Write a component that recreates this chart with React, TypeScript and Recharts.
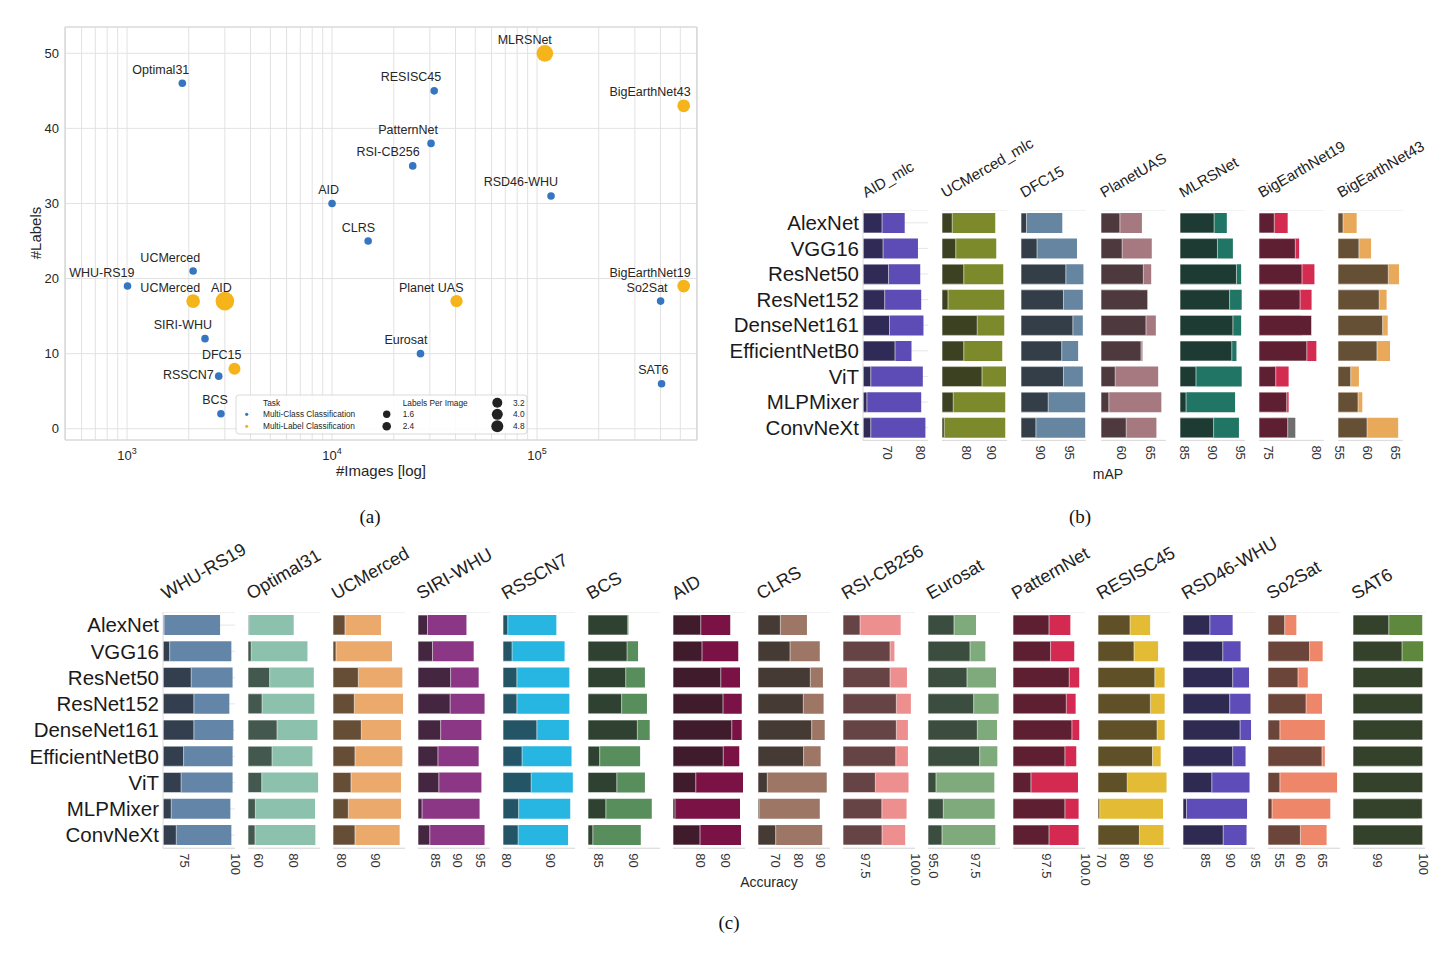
import React from "react";
import {
  BarChart,
  Bar,
  Cell,
  XAxis,
  YAxis,
  CartesianGrid,
  ScatterChart,
  Scatter,
  ZAxis,
  ReferenceArea,
} from "recharts";

const FONT = '"Liberation Sans", Arial, Helvetica, sans-serif';

// ---------- (a) datasets: #images vs #labels ----------
const mcNames = ["Optimal31", "RESISC45", "PatternNet", "RSI-CB256", "AID", "CLRS", "RSD46-WHU", "UCMerced", "WHU-RS19", "SIRI-WHU", "RSSCN7", "BCS", "Eurosat", "So2Sat", "SAT6"];
const mcImages = [1860, 31500, 30400, 24747, 10000, 15000, 117000, 2100, 1005, 2400, 2800, 2870, 27000, 400673, 405000];
const mcLabels = [46, 45, 38, 35, 30, 25, 31, 21, 19, 12, 7, 2, 10, 17, 6];

const mlNames = ["MLRSNet", "BigEarthNet43", "BigEarthNet19", "UCMerced", "AID", "Planet UAS", "DFC15"];
const mlImages = [109161, 519284, 519284, 2100, 3000, 40479, 3342];
const mlLabels = [50, 43, 19, 17, 17, 17, 8];
const mlLabelsPerImage = [4.4, 3.0, 3.0, 3.3, 5.2, 2.9, 2.8];

const xTicksLog = [500, 600, 700, 800, 900, 1000, 2000, 3000, 4000, 5000, 6000, 7000, 8000, 9000, 10000, 20000, 30000, 40000, 50000, 60000, 70000, 80000, 90000, 100000, 200000, 300000, 400000, 500000, 600000];
const yTicksLabels = [0, 10, 20, 30, 40, 50];

// label placement tweaks (px), default is up-left of the dot
const labelNudge: Record<string, [number, number]> = { RSSCN7: [-5, -1] };

// ---------- (b)/(c) models ----------
const models = ["AlexNet", "VGG16", "ResNet50", "ResNet152", "DenseNet161", "EfficientNetB0", "ViT", "MLPMixer", "ConvNeXt"];

// (b) multi-label, mAP. dark = scratch, light = pretrained
const aidMlcScratch = [68.2, 68.5, 70.2, 69.0, 70.5, 72.2, 64.7, 63.5, 64.7];
const aidMlcPre = [75.2, 79.3, 80.0, 80.3, 81.0, 77.3, 80.8, 80.3, 81.6];
const ucmMlcScratch = [74.5, 75.9, 79.1, 72.8, 84.5, 79.1, 86.4, 74.9, 71.3];
const ucmMlcPre = [91.7, 92.1, 94.9, 95.3, 95.3, 94.5, 96.0, 95.7, 95.7];
const dfc15Scratch = [87.7, 89.5, 94.4, 94.0, 95.6, 93.7, 94.0, 91.4, 89.3];
const dfc15Pre = [93.8, 96.3, 97.4, 97.3, 97.3, 96.5, 97.3, 97.7, 97.7];
const planetScratch = [59.8, 60.2, 63.85, 64.6, 64.3, 63.45, 59.0, 57.9, 60.9];
const planetPre = [63.6, 65.3, 65.2, 63.0, 66.0, 63.7, 66.4, 66.95, 66.1];
const mlrsScratch = [90.3, 90.9, 94.35, 93.1, 93.7, 93.5, 87.0, 85.2, 90.2];
const mlrsPre = [92.6, 93.7, 95.2, 95.3, 95.2, 94.35, 95.3, 94.1, 94.8];
const ben19Scratch = [75.6, 77.8, 78.5, 78.3, 79.5, 79.0, 75.75, 76.9, 77.0];
const ben19Pre = [77.0, 78.2, 79.8, 79.5, 78.5, 80.0, 77.1, 77.1, 77.8];
const ben43Scratch = [55.7, 58.5, 63.7, 62.1, 62.7, 61.7, 57.05, 58.35, 59.95];
const ben43Pre = [58.1, 60.65, 65.6, 63.4, 63.6, 64.0, 58.5, 59.1, 65.45];

// (c) multi-class, accuracy
const whuScratch = [64.8, 67.6, 78.3, 79.6, 79.6, 74.5, 73.3, 68.4, 70.9];
const whuPre = [92.6, 98.2, 98.8, 97.2, 99.2, 98.8, 98.8, 97.7, 98.2];
const opt31Scratch = [54.0, 55.5, 66.2, 61.8, 70.5, 67.6, 61.6, 57.9, 57.7];
const opt31Pre = [80.2, 88.2, 91.9, 92.2, 94.0, 91.1, 94.4, 92.6, 92.8];
const ucmScratch = [81.0, 78.3, 85.0, 83.8, 85.9, 84.0, 82.8, 82.0, 84.0];
const ucmPre = [91.8, 95.1, 98.2, 98.4, 97.8, 98.2, 97.8, 97.8, 97.4];
const siriScratch = [83.3, 84.4, 88.4, 88.3, 86.2, 85.6, 85.8, 82.1, 83.8];
const siriPre = [91.9, 93.5, 94.6, 95.9, 95.2, 94.6, 95.2, 94.8, 95.9];
const rsscnScratch = [80.2, 81.2, 82.3, 82.3, 86.9, 83.5, 85.6, 82.7, 82.6];
const rsscnPre = [91.4, 93.3, 94.4, 94.4, 94.3, 94.9, 95.2, 94.6, 94.1];
const bcsScratch = [89.2, 89.1, 88.9, 88.3, 90.6, 85.1, 87.6, 86.0, 84.1];
const bcsPre = [89.3, 90.7, 91.7, 92.0, 92.4, 91.0, 91.7, 92.7, 91.1];
const aidScratch = [80.3, 80.8, 88.3, 89.2, 92.7, 89.3, 78.3, 70.0, 80.0];
const aidPre = [92.1, 95.3, 96.0, 96.7, 96.7, 95.7, 97.2, 96.0, 96.4];
const clrsScratch = [72.1, 76.4, 85.4, 82.3, 86.0, 82.4, 66.3, 62.6, 70.0];
const clrsPre = [83.9, 89.6, 91.0, 91.3, 91.8, 90.0, 92.7, 89.6, 90.7];
const rsicbScratch = [97.2, 98.73, 98.73, 99.05, 99.05, 99.02, 97.98, 98.31, 98.32];
const rsicbPre = [99.27, 98.95, 99.59, 99.79, 99.64, 99.64, 99.67, 99.57, 99.5];
const eurosatScratch = [96.24, 97.2, 97.02, 97.42, 97.64, 97.78, 95.16, 95.6, 95.52];
const eurosatPre = [97.56, 98.12, 98.76, 98.92, 98.82, 98.84, 98.66, 98.68, 98.72];
const patternScratch = [97.69, 97.79, 98.99, 98.8, 99.16, 98.71, 96.53, 98.71, 97.69];
const patternPre = [99.06, 99.31, 99.63, 99.4, 99.63, 99.44, 99.55, 99.59, 99.59];
const resiscScratch = [82.3, 84.0, 92.9, 91.0, 93.9, 91.9, 81.1, 69.3, 86.3];
const resiscPre = [90.9, 94.3, 97.1, 97.1, 97.1, 95.4, 97.9, 96.4, 96.6];
const rsd46Scratch = [85.9, 88.5, 90.5, 89.9, 92.0, 90.5, 86.3, 81.2, 88.6];
const rsd46Pre = [90.5, 92.1, 93.8, 94.1, 94.2, 93.1, 93.9, 93.4, 93.3];
const so2satScratch = [56.3, 62.0, 59.35, 61.2, 55.2, 64.85, 55.2, 53.4, 59.9];
const so2satPre = [58.97, 65.0, 61.6, 64.85, 65.5, 65.5, 68.3, 66.75, 65.9];
const sat6Scratch = [99.24, 99.53, 99.98, 99.98, 99.98, 99.98, 99.98, 99.97, 99.98];
const sat6Pre = [99.97, 99.99, 99.93, 99.95, 99.94, 99.92, 99.96, 99.9, 99.95];

type Panel = {
  title: string;
  dark: number[];
  light: number[];
  domain: [number, number];
  ticks: number[];
  colors: [string, string];
  decimals?: number;
  lightCells?: (string | undefined)[];
};

const panelsB: Panel[] = [
  { title: "AID_mlc", dark: aidMlcScratch, light: aidMlcPre, domain: [62.3, 82.4], ticks: [70, 80], colors: ["#302b56", "#5d4cb6"] },
  { title: "UCMerced_mlc", dark: ucmMlcScratch, light: ucmMlcPre, domain: [70.4, 96.4], ticks: [80, 90], colors: ["#3c4122", "#7c8a2b"] },
  { title: "DFC15", dark: dfc15Scratch, light: dfc15Pre, domain: [86.76, 97.84], ticks: [90, 95], colors: ["#343e48", "#6685a0"] },
  { title: "PlanetUAS", dark: planetScratch, light: planetPre, domain: [56.55, 67.75], ticks: [60, 65], colors: ["#4e3a3e", "#a67981"] },
  { title: "MLRSNet", dark: mlrsScratch, light: mlrsPre, domain: [84.1, 95.9], ticks: [85, 90, 95], colors: ["#1e3b33", "#207565"] },
  {
    title: "BigEarthNet19", dark: ben19Scratch, light: ben19Pre, domain: [74.0, 80.8], ticks: [75, 80], colors: ["#5d1f31", "#d42b51"],
    lightCells: [undefined, undefined, undefined, undefined, undefined, undefined, undefined, undefined, "#6e6e6e"],
  },
  { title: "BigEarthNet43", dark: ben43Scratch, light: ben43Pre, domain: [54.8, 66.3], ticks: [55, 60, 65], colors: ["#654f35", "#e9a95b"] },
];

const panelsC: Panel[] = [
  { title: "WHU-RS19", dark: whuScratch, light: whuPre, domain: [64.3, 100], ticks: [75, 100], colors: ["#333f4e", "#6386a8"] },
  { title: "Optimal31", dark: opt31Scratch, light: opt31Pre, domain: [53.6, 95.5], ticks: [60, 80], colors: ["#43594f", "#8cc1ad"] },
  { title: "UCMerced", dark: ucmScratch, light: ucmPre, domain: [77.4, 99.0], ticks: [80, 90], colors: ["#654e35", "#eba96b"] },
  { title: "SIRI-WHU", dark: siriScratch, light: siriPre, domain: [81.2, 97.1], ticks: [85, 90, 95], colors: ["#442641", "#8b3785"] },
  { title: "RSSCN7", dark: rsscnScratch, light: rsscnPre, domain: [79.1, 95.7], ticks: [80, 90], colors: ["#235566", "#26b6e1"] },
  { title: "BCS", dark: bcsScratch, light: bcsPre, domain: [83.4, 93.9], ticks: [85, 90], colors: ["#2f4231", "#578e5b"] },
  { title: "AID", dark: aidScratch, light: aidPre, domain: [69.2, 98.0], ticks: [80, 90], colors: ["#3f1b2c", "#7a1245"] },
  { title: "CLRS", dark: clrsScratch, light: clrsPre, domain: [62.15, 94.15], ticks: [70, 80, 90], colors: ["#453a34", "#9d7665"] },
  { title: "RSI-CB256", dark: rsicbScratch, light: rsicbPre, domain: [96.33, 100], ticks: [97.5, 100], colors: ["#664344", "#ee8f8f"], decimals: 1 },
  { title: "Eurosat", dark: eurosatScratch, light: eurosatPre, domain: [94.68, 99.0], ticks: [95, 97.5], colors: ["#3b4d3e", "#7eaa7c"], decimals: 1 },
  { title: "PatternNet", dark: patternScratch, light: patternPre, domain: [95.38, 100], ticks: [97.5, 100], colors: ["#5d1f31", "#d42a52"], decimals: 1 },
  { title: "RESISC45", dark: resiscScratch, light: resiscPre, domain: [68.57, 99.4], ticks: [70, 80, 90], colors: ["#5f5027", "#e3bb34"] },
  { title: "RSD46-WHU", dark: rsd46Scratch, light: rsd46Pre, domain: [80.5, 95.0], ticks: [85, 90, 95], colors: ["#2f2a51", "#5e4db9"] },
  { title: "So2Sat", dark: so2satScratch, light: so2satPre, domain: [52.48, 68.97], ticks: [55, 60, 65], colors: ["#6b4539", "#ee876a"] },
  { title: "SAT6", dark: sat6Scratch, light: sat6Pre, domain: [98.46, 100.03], ticks: [99, 100], colors: ["#34412b", "#5f883f"] },
];

const BLUE = "#3675c1";
const ORANGE = "#f5b41a";
const SIDE = 10; // room for rotated edge tick labels

const RotTick = (props: any) => {
  const { x, y, payload, decimals } = props;
  const v = payload.value as number;
  const label = decimals ? v.toFixed(decimals) : String(v);
  return (
    <text x={x} y={y + 5} transform={`rotate(90 ${x} ${y + 5})`} textAnchor="start" dominantBaseline="central" fontSize={13} fill="#333" fontFamily={FONT}>
      {label}
    </text>
  );
};

const LogTick = (props: any) => {
  const { x, y, payload } = props;
  const v = payload.value as number;
  const e = Math.round(Math.log10(v));
  if (Math.abs(Math.pow(10, e) - v) > 1e-6) return <g />;
  return (
    <text x={x} y={y + 18} textAnchor="middle" fontSize={13} fill="#262626" fontFamily={FONT}>
      10<tspan dy={-6} fontSize={9}>{e}</tspan>
    </text>
  );
};

const dotShape = (color: string, fixedR?: number) => (props: any) => {
  const { cx, cy, payload } = props;
  if (cx == null || cy == null) return <g />;
  const r = fixedR ?? (props.width ? props.width / 2 : Math.sqrt((props.size ?? 64) / Math.PI));
  const [dx, dy] = labelNudge[payload.name] ?? [7, -13.5];
  return (
    <g>
      <circle cx={cx} cy={cy} r={r} fill={color} />
      <text x={cx + dx} y={cy + dy} textAnchor="end" dominantBaseline="central" fontSize={12.5} fill="#262626" fontFamily={FONT}>
        {payload.name}
      </text>
    </g>
  );
};

const ScatterPanel = () => {
  const mc = mcNames.map((name, i) => ({ name, images: mcImages[i], labels: mcLabels[i] }));
  const ml = mlNames.map((name, i) => ({ name, images: mlImages[i], labels: mlLabels[i], lpi: mlLabelsPerImage[i] }));
  return (
    <div style={{ position: "absolute", left: 0, top: 0 }}>
      <ScatterChart width={710} height={480} margin={{ top: 27, right: 13, bottom: 0, left: 0 }}>
        <CartesianGrid stroke="#e2e2e2" />
        <XAxis type="number" dataKey="images" scale="log" domain={[498, 603000]} allowDataOverflow ticks={xTicksLog} interval={0} tick={<LogTick />} tickLine={false} tickSize={0} axisLine={false} height={40} />
        <YAxis type="number" dataKey="labels" domain={[-1.5, 53.5]} allowDataOverflow ticks={yTicksLabels} interval={0} width={65} tickLine={false} tickSize={0} tickMargin={6} axisLine={false} tick={{ fontSize: 13, fill: "#262626", fontFamily: FONT }} />
        <ZAxis zAxisId="mc" range={[45, 45]} />
        <ZAxis zAxisId="ml" type="number" dataKey="lpi" domain={[2.8, 5.2]} range={[113, 272]} />
        <ReferenceArea x1={498} x2={603000} y1={-1.5} y2={53.5} fill="none" fillOpacity={0} stroke="#d4d4d4" ifOverflow="visible" />
        <Scatter data={mc} zAxisId="mc" fill={BLUE} shape={dotShape(BLUE, 3.8)} isAnimationActive={false} />
        <Scatter data={ml} zAxisId="ml" fill={ORANGE} shape={dotShape(ORANGE)} isAnimationActive={false} />
      </ScatterChart>
    </div>
  );
};

const SmallBars = ({ p, left, top, plotW, plotH, labelW, titleSize }: { p: Panel; left: number; top: number; plotW: number; plotH: number; labelW: number; titleSize: number }) => {
  const data = models.map((model, i) => ({ model, light: p.light[i], dark: p.dark[i] }));
  const barSize = 20;
  return (
    <>
      <svg style={{ position: "absolute", left, top: top - 100, overflow: "visible" }} width={200} height={100}>
        <text x={3} y={88} transform="rotate(-30 3 88)" fontSize={titleSize} fill="#222" fontFamily={FONT}>
          {p.title}
        </text>
      </svg>
      <div style={{ position: "absolute", left: left - labelW - SIDE, top }}>
        <BarChart layout="vertical" width={plotW + labelW + 2 * SIDE} height={plotH + 40} data={data} margin={{ top: 0, right: SIDE, bottom: 0, left: SIDE }} barGap={-barSize} barSize={barSize}>
          <CartesianGrid horizontal vertical={false} stroke="#e6e6e6" />
          <XAxis type="number" domain={p.domain} allowDataOverflow ticks={p.ticks} interval={0} tickLine={false} tickSize={0} tickMargin={0} axisLine={{ stroke: "#dcdcdc" }} height={40} tick={<RotTick decimals={p.decimals} />} />
          <YAxis type="category" dataKey="model" width={labelW} interval={0} tickLine={false} tickSize={0} tickMargin={4} axisLine={{ stroke: "#dcdcdc" }} tick={labelW > 0 ? { fontSize: 20.5, fill: "#1a1a1a", fontFamily: FONT } : false} />
          <Bar dataKey="light" fill={p.colors[1]} isAnimationActive={false}>
            {data.map((_, i) => (
              <Cell key={`l-${i}`} fill={p.lightCells?.[i] ?? p.colors[1]} />
            ))}
          </Bar>
          <Bar dataKey="dark" fill={p.colors[0]} stroke="#ffffff" strokeOpacity={0.75} strokeWidth={0.8} isAnimationActive={false} />
        </BarChart>
      </div>
    </>
  );
};

export default function App() {
  return (
    <div style={{ position: "absolute", left: 0, top: 0, width: 1456, height: 954, background: "#fff", overflow: "hidden", fontFamily: FONT }}>
      <ScatterPanel />
      {panelsB.map((p, k) => (
        <SmallBars key={p.title} p={p} left={863 + 79.2 * k} top={209.5} plotW={65} plotH={230.4} labelW={k === 0 ? 150 : 0} titleSize={15} />
      ))}
      {panelsC.map((p, k) => (
        <SmallBars key={p.title} p={p} left={162.7 + 85.05 * k} top={612} plotW={72} plotH={236.25} labelW={k === 0 ? 150 : 0} titleSize={18} />
      ))}
      <svg style={{ position: "absolute", left: 0, top: 0, pointerEvents: "none" }} width={1456} height={954}>
        {/* axis titles */}
        <text x={35} y={233} transform="rotate(-90 35 233)" textAnchor="middle" dominantBaseline="central" fontSize={15} fill="#262626" fontFamily={FONT}>#Labels</text>
        <text x={381} y={470} textAnchor="middle" dominantBaseline="central" fontSize={15} fill="#262626" fontFamily={FONT}>#Images [log]</text>
        <text x={1108} y={474} textAnchor="middle" dominantBaseline="central" fontSize={14} fill="#262626" fontFamily={FONT}>mAP</text>
        <text x={769} y={882} textAnchor="middle" dominantBaseline="central" fontSize={14} fill="#262626" fontFamily={FONT}>Accuracy</text>
        {/* legend of (a) */}
        <rect x={236} y={395} width={291} height={39} rx={3} fill="#ffffff" fillOpacity={0.85} stroke="#d0d0d0" strokeWidth={0.8} />
        <g fontSize={8.3} fill="#262626" fontFamily={FONT} dominantBaseline="central">
          <text x={263} y={402.7}>Task</text>
          <circle cx={246.7} cy={414.3} r={1.6} fill={BLUE} />
          <text x={263} y={414.3}>Multi-Class Classification</text>
          <circle cx={246.7} cy={426.3} r={1.6} fill={ORANGE} />
          <text x={263} y={426.3}>Multi-Label Classification</text>
          <text x={402.7} y={402.7}>Labels Per Image</text>
          <circle cx={386.7} cy={414.3} r={3.7} fill="#222" />
          <text x={402.7} y={414.3}>1.6</text>
          <circle cx={386.7} cy={426.3} r={4.3} fill="#222" />
          <text x={402.7} y={426.3}>2.4</text>
          <circle cx={497.3} cy={402.7} r={5} fill="#222" />
          <text x={513} y={402.7}>3.2</text>
          <circle cx={497.3} cy={414.3} r={5.5} fill="#222" />
          <text x={513} y={414.3}>4.0</text>
          <circle cx={497.3} cy={426.3} r={6} fill="#222" />
          <text x={513} y={426.3}>4.8</text>
        </g>
        {/* sub-figure captions */}
        <g fontSize={19} fill="#111" fontFamily='"Liberation Serif", "Times New Roman", serif' textAnchor="middle" dominantBaseline="central">
          <text x={370} y={516}>(a)</text>
          <text x={1080} y={516}>(b)</text>
          <text x={729} y={922}>(c)</text>
        </g>
      </svg>
    </div>
  );
}
